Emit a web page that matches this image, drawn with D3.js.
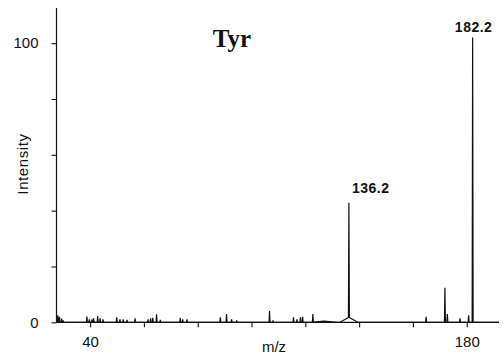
<!DOCTYPE html>
<html>
<head>
<meta charset="utf-8">
<script src="https://cdn.jsdelivr.net/npm/d3@7"></script>
<style>
  body { margin: 0; background: #fff; }
  svg { display: block; }
</style>
</head>
<body>
<div id="chart"></div>
<script>
// Spektrum verileri (m/z, bağıl yoğunluk %)
const peakMz = [28.0, 28.6, 29.4, 30.0, 38.8, 39.7, 40.7, 41.3, 42.8, 43.7, 44.8,
  49.9, 51.1, 52.3, 53.7, 56.7, 61.5, 62.5, 63.3, 64.7, 66.1, 73.5, 74.4, 76.0,
  88.4, 90.7, 92.6, 94.5, 106.7, 108.0, 115.6, 116.9, 118.2, 119.0, 122.8,
  136.2, 164.9, 171.9, 172.8, 177.5, 180.7, 182.2];
const peakInt = [2.5, 2.0, 1.3, 0.7, 2.1, 1.1, 1.1, 1.4, 2.2, 1.4, 1.1,
  1.8, 1.1, 1.1, 0.9, 1.4, 1.1, 1.4, 1.6, 2.9, 0.9, 1.6, 1.1, 1.1,
  1.8, 3.0, 1.1, 0.7, 4.0, 0.7, 1.8, 1.1, 1.8, 2.0, 2.9,
  41.0, 2.0, 12.4, 3.0, 1.4, 2.5, 102];

// Geniş tabanlı tümsekler
const humpMz = [136.2, 127.0];
const humpInt = [1.8, 0.4];
const humpWidth = [3.3, 5];

// Etiketli tepeler
const labelMz = [136.2, 182.2];
const labelText = ['136.2', '182.2'];

const xTicks = [40, 60, 80, 100, 120, 140, 160, 180];
const xTickLabels = ['40', '', '', '', '', '', '', '180'];
const yTicks = [0, 20, 40, 60, 80, 100];
const yTickLabels = ['0', '', '', '', '', '100'];

const width = 504;
const height = 358;

const svg = d3.select('#chart')
  .append('svg')
  .attr('width', width)
  .attr('height', height);

const x = d3.scaleLinear().domain([27.5, 192]).range([56.5, 499]);
const y = d3.scaleLinear().domain([0, 112.6]).range([322.3, 8]);

const peakHalf = 0.18;

// Tepe ve tümsek üçgenleri
const features = peakMz.map((m, i) => ({ mz: m, v: peakInt[i], w: peakHalf }))
  .concat(humpMz.map((m, i) => ({ mz: m, v: humpInt[i], w: humpWidth[i] })));

const breaks = new Set([x.domain()[0], x.domain()[1]]);
features.forEach(f => { breaks.add(f.mz - f.w); breaks.add(f.mz); breaks.add(f.mz + f.w); });
const pts = Array.from(breaks).sort((a, b) => a - b).map(m => {
  let v = 0;
  features.forEach(f => {
    const d = Math.abs(m - f.mz);
    if (d < f.w) v += f.v * (1 - d / f.w);
  });
  return [m, v];
});

// Eksenler
const yAxis = svg.append('g')
  .attr('transform', `translate(${x.range()[0]},0)`)
  .call(d3.axisLeft(y).tickValues(yTicks).tickSize(5).tickPadding(13)
    .tickFormat((d, i) => yTickLabels[i]));

const xAxis = svg.append('g')
  .attr('transform', `translate(0,${y(0)})`)
  .call(d3.axisBottom(x).tickValues(xTicks).tickSize(5).tickPadding(9)
    .tickFormat((d, i) => xTickLabels[i]));

[yAxis, xAxis].forEach(a => {
  a.select('.domain').attr('stroke', '#111').attr('stroke-width', 1.2);
  a.selectAll('.tick line').attr('stroke', '#111').attr('stroke-width', 1.1);
  a.selectAll('.tick text')
    .attr('fill', '#111')
    .style('font-family', '"Liberation Sans", Arial, sans-serif')
    .style('font-size', '15px');
});
yAxis.select('.domain').attr('d', `M0,${y(0)}V${y.range()[1]}`);
xAxis.select('.domain').attr('d', `M${x.range()[0]},0H${x.range()[1]}`);

// Spektrum çizgisi
svg.append('path')
  .datum(pts)
  .attr('fill', 'none')
  .attr('stroke', '#111')
  .attr('stroke-width', 1.2)
  .attr('stroke-linejoin', 'bevel')
  .attr('d', d3.line().x(d => x(d[0])).y(d => y(d[1])));

// Tepe etiketleri
const labelFont = '"Liberation Sans", Arial, sans-serif';
labelMz.forEach((m, i) => {
  const idx = peakMz.indexOf(m);
  const top = peakInt[idx] + (humpMz.includes(m) ? humpInt[humpMz.indexOf(m)] : 0);
  const first = i === 0;
  svg.append('text')
    .attr('x', first ? x(m) + 3 : x(m) + 1)
    .attr('y', first ? y(top) - 10 : y(top) - 6)
    .attr('text-anchor', first ? 'start' : 'middle')
    .style('font-family', labelFont)
    .style('font-weight', 'bold')
    .style('font-size', '14px')
    .style('letter-spacing', '0.5px')
    .attr('fill', '#111')
    .text(labelText[i]);
});

// Başlık
svg.append('text')
  .attr('x', 232)
  .attr('y', 47)
  .attr('text-anchor', 'middle')
  .style('font-family', '"Liberation Serif", "Times New Roman", serif')
  .style('font-weight', 'bold')
  .style('font-size', '25px')
  .attr('fill', '#111')
  .text('Tyr');

// Eksen başlıkları
svg.append('text')
  .attr('x', 274)
  .attr('y', 352)
  .attr('text-anchor', 'middle')
  .style('font-family', labelFont)
  .style('font-size', '15px')
  .attr('fill', '#111')
  .text('m/z');

svg.append('text')
  .attr('transform', 'translate(28,164) rotate(-90)')
  .attr('text-anchor', 'middle')
  .style('font-family', labelFont)
  .style('font-size', '15px')
  .style('letter-spacing', '0.6px')
  .attr('fill', '#111')
  .text('Intensity');
</script>
</body>
</html>
